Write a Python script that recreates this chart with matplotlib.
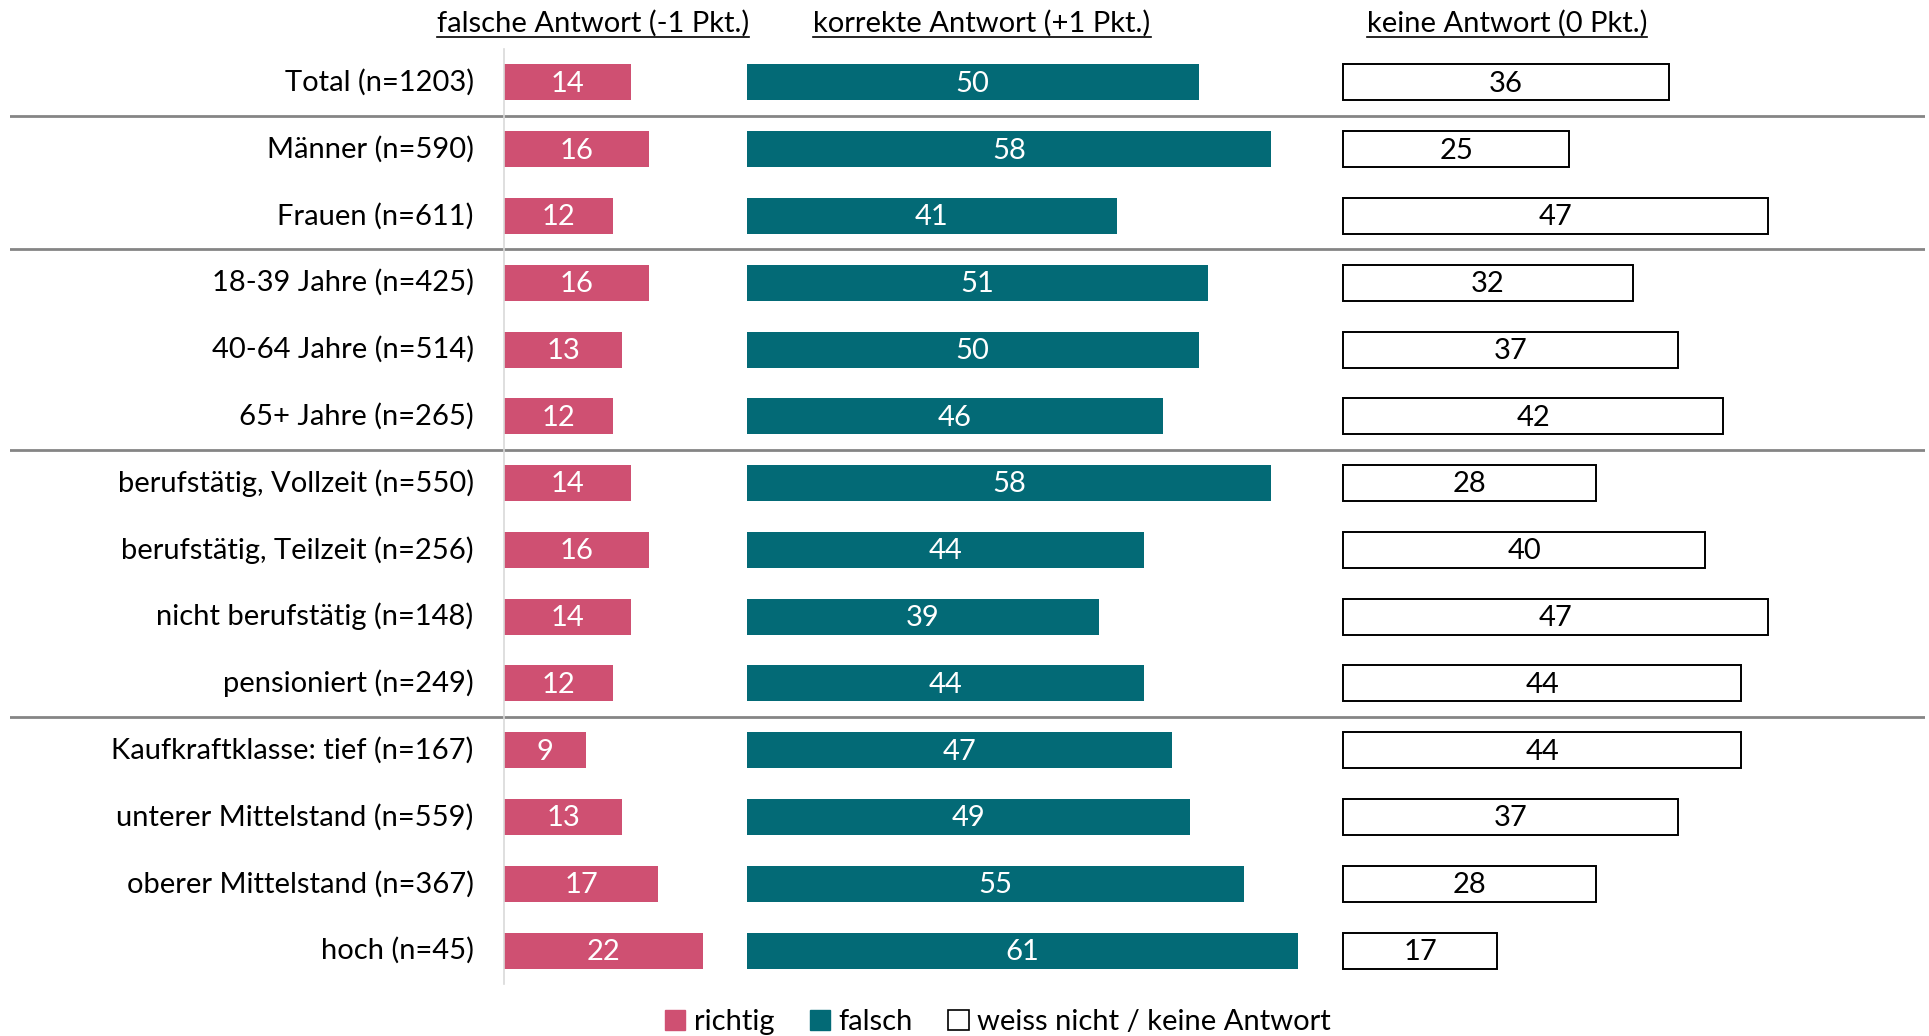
import matplotlib
matplotlib.use("Agg")
import matplotlib.pyplot as plt
from matplotlib.patches import Patch
from matplotlib.lines import Line2D

categories = ["Total (n=1203)", "Männer (n=590)", "Frauen (n=611)",
              "18-39 Jahre (n=425)", "40-64 Jahre (n=514)", "65+ Jahre (n=265)",
              "berufstätig, Vollzeit (n=550)", "berufstätig, Teilzeit (n=256)",
              "nicht berufstätig (n=148)", "pensioniert (n=249)",
              "Kaufkraftklasse: tief (n=167)", "unterer Mittelstand (n=559)",
              "oberer Mittelstand (n=367)", "hoch (n=45)"]
falsch_vals = [14, 16, 12, 16, 13, 12, 14, 16, 14, 12, 9, 13, 17, 22]
korrekt_vals = [50, 58, 41, 51, 50, 46, 58, 44, 39, 44, 47, 49, 55, 61]
keine_vals = [36, 25, 47, 32, 37, 42, 28, 40, 47, 44, 44, 37, 28, 17]
headers = ["falsche Antwort (-1 Pkt.)", "korrekte Antwort (+1 Pkt.)", "keine Antwort (0 Pkt.)"]
legend_labels = ["richtig", "falsch", "weiss nicht / keine Antwort"]
separators_after = [0, 2, 5, 9]

PINK = "#CF5072"
TEAL = "#036A76"
FONT = "Lato"
FS = 21

W, H = 1929, 1036
fig = plt.figure(figsize=(W / 100, H / 100), dpi=100)
plt.rcParams['font.family'] = [FONT, 'DejaVu Sans']

px_unit = 9.04
x0_px = 504.4
left_px, right_px = 10, 1925
top_px, bot_px = 49, 984
ax = fig.add_axes([left_px / W, 1 - bot_px / H, (right_px - left_px) / W, (bot_px - top_px) / H])
ax.set_xlim(-(x0_px - left_px) / px_unit, (right_px - x0_px) / px_unit)
ax.set_ylim(len(categories) - 0.5, -0.5)
ax.axis('off')

off_teal = 26.8
off_white = 92.8
bh = 0.54
ys = list(range(len(categories)))

ax.barh(ys, falsch_vals, left=0, height=bh, color=PINK)
ax.barh(ys, korrekt_vals, left=off_teal, height=bh, color=TEAL)
ax.barh(ys, keine_vals, left=off_white, height=bh, color="white", edgecolor="black", linewidth=1.4)

dy = 0.02
for y, a, b, c, lab in zip(ys, falsch_vals, korrekt_vals, keine_vals, categories):
    ax.text(a / 2, y + dy, str(a), ha='center', va='center', color='white', fontsize=FS)
    ax.text(off_teal + b / 2, y + dy, str(b), ha='center', va='center', color='white', fontsize=FS)
    ax.text(off_white + c / 2, y + dy, str(c), ha='center', va='center', color='black', fontsize=FS)
    ax.text(-3.4, y, lab, ha='right', va='center', color='black', fontsize=FS)

for s in separators_after:
    ax.axhline(s + 0.5, color="#858585", linewidth=2.0)

ax.plot([0, 0], [-0.5, len(categories) - 0.5], color="#D9D9D9", linewidth=1.2, clip_on=False)

# headers
header_x_px = [593, 982, 1507]
htexts = []
for hx, ht in zip(header_x_px, headers):
    t = fig.text(hx / W, 1 - 23 / H, ht, ha='center', va='center', fontsize=FS)
    htexts.append(t)

fig.canvas.draw()
r = fig.canvas.get_renderer()
for t in htexts:
    bb = t.get_window_extent(renderer=r)
    yline = bb.y0 - 1
    fig.add_artist(Line2D([bb.x0 / W, bb.x1 / W], [yline / H, yline / H], color='black', linewidth=1.2,
                          transform=fig.transFigure))

handles = [Patch(facecolor=PINK, edgecolor=PINK),
           Patch(facecolor=TEAL, edgecolor=TEAL),
           Patch(facecolor='white', edgecolor='black', linewidth=1.2)]
fig.legend(handles, legend_labels, loc='center', bbox_to_anchor=(998 / W, 1 - 1022 / H), ncol=3,
           frameon=False, fontsize=FS, handlelength=0.7, handleheight=0.7, handletextpad=0.3,
           columnspacing=1.2, borderpad=0)

fig.savefig("out.png", dpi=100)
